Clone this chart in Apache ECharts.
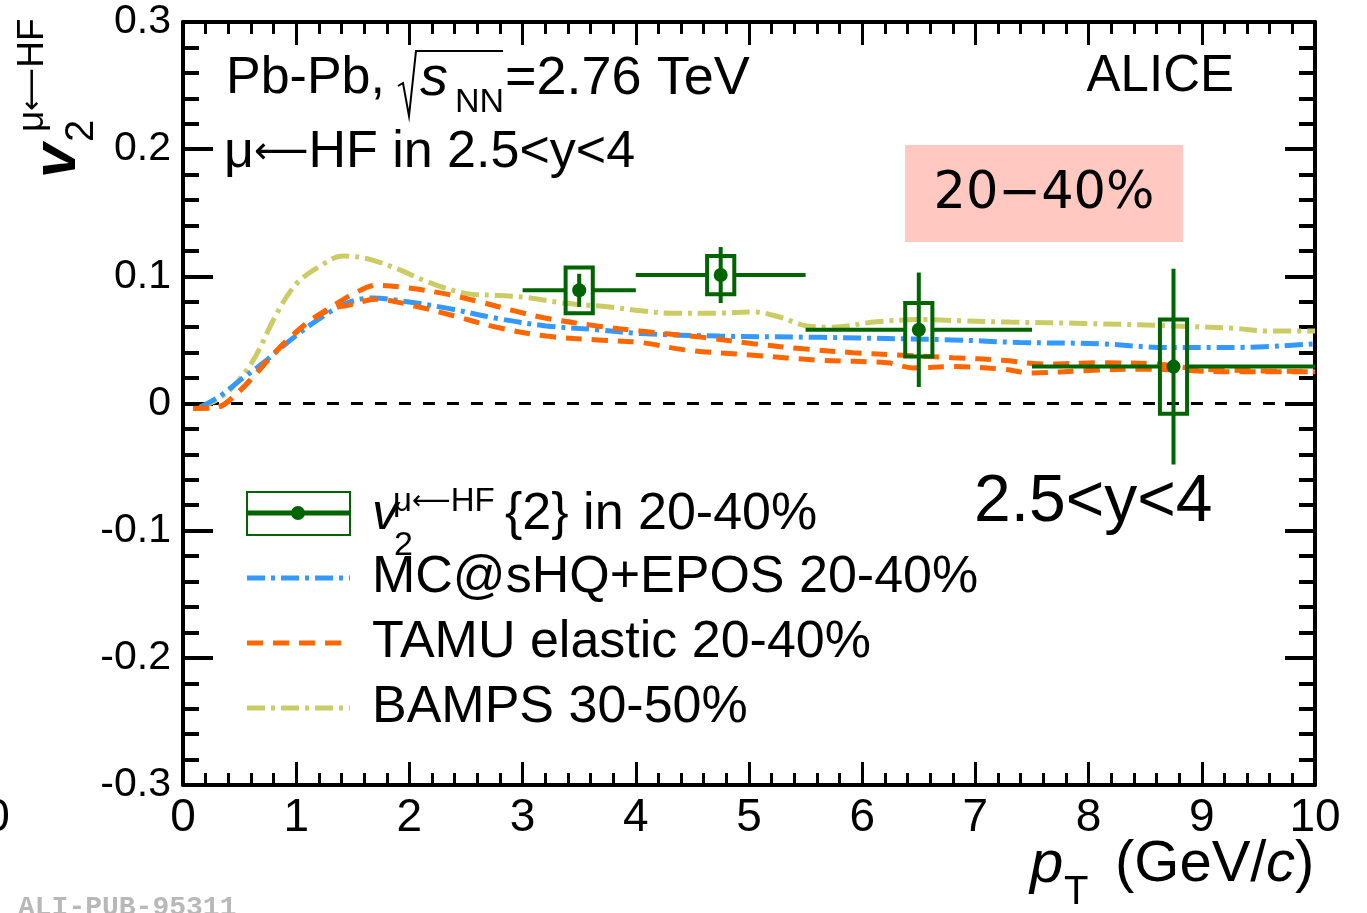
<!DOCTYPE html>
<html>
<head>
<meta charset="utf-8">
<script src="https://cdn.jsdelivr.net/npm/echarts@6/dist/echarts.min.js"></script>
<style>
  html, body { margin: 0; padding: 0; background: #fff; }
  #chart { width: 1367px; height: 913px; }
</style>
</head>
<body>
<div id="chart"></div>
<script>
// ---- data ----
var xTickLabels = ['0', '1', '2', '3', '4', '5', '6', '7', '8', '9', '10'];
var yTickLabels = ['-0.3', '-0.2', '-0.1', '0', '0.1', '0.2', '0.3'];

// measured v2 of muons from heavy-flavour decays, 20-40%
var ptCenter = [3.5, 4.75, 6.5, 8.75];
var ptLow = [3, 4, 5.5, 7.5];
var ptHigh = [4, 5.5, 7.5, 10];
var v2 = [0.089, 0.101, 0.058, 0.029];
var statErr = [0.013, 0.022, 0.045, 0.077];
var sysErr = [0.018, 0.015, 0.021, 0.037];

// BAMPS 30-50%
var bampsPt = [0.15, 0.3, 0.44, 0.62, 0.83, 1.0, 1.21, 1.41, 1.62, 1.89, 2.18, 2.54, 2.8, 3.07, 3.36, 3.75, 4.04, 4.3, 4.7, 5.04, 5.27, 5.51, 5.74, 6.1, 6.51, 6.9, 7.3, 7.95, 8.75, 9.3, 9.58, 10];
var bampsV2 = [-0.003, 0.003, 0.013, 0.034, 0.071, 0.094, 0.108, 0.116, 0.114, 0.106, 0.095, 0.086, 0.085, 0.083, 0.079, 0.076, 0.073, 0.071, 0.071, 0.072, 0.068, 0.061, 0.060, 0.064, 0.066, 0.065, 0.064, 0.063, 0.061, 0.059, 0.057, 0.057];

// MC@sHQ+EPOS 20-40%
var mcPt = [0.15, 0.33, 0.5, 0.71, 0.95, 1.21, 1.45, 1.68, 1.98, 2.33, 2.77, 3.21, 3.66, 4.04, 4.74, 5.63, 6.8, 7.39, 8.1, 8.69, 9.27, 10];
var mcV2 = [-0.003, 0.006, 0.018, 0.032, 0.050, 0.067, 0.079, 0.083, 0.080, 0.075, 0.067, 0.061, 0.058, 0.055, 0.053, 0.052, 0.050, 0.048, 0.047, 0.044, 0.044, 0.047];

// TAMU elastic 20-40% (upper and lower edge)
var tamuHiPt = [0.09, 0.3, 0.5, 0.65, 0.8, 0.95, 1.12, 1.33, 1.5, 1.71, 1.98, 2.33, 2.62, 2.92, 3.21, 3.66, 4.04, 4.59, 5.04, 5.48, 5.92, 6.36, 6.8, 7.24, 7.6, 8.1, 8.6, 9.0, 10];
var tamuHiV2 = [-0.004, -0.003, 0.010, 0.024, 0.039, 0.052, 0.065, 0.077, 0.086, 0.093, 0.091, 0.086, 0.080, 0.073, 0.067, 0.061, 0.057, 0.052, 0.047, 0.043, 0.040, 0.038, 0.036, 0.034, 0.031, 0.032, 0.031, 0.027, 0.025];
var tamuLoPt = [0.09, 0.3, 0.5, 0.65, 0.8, 0.95, 1.12, 1.33, 1.45, 1.71, 2.03, 2.39, 2.77, 3.21, 3.66, 4.04, 4.45, 5.04, 5.63, 6.22, 6.45, 6.8, 7.24, 7.5, 8.0, 8.5, 9.2, 10];
var tamuLoV2 = [-0.004, -0.003, 0.010, 0.024, 0.039, 0.052, 0.065, 0.075, 0.077, 0.082, 0.077, 0.069, 0.060, 0.053, 0.050, 0.048, 0.042, 0.038, 0.034, 0.032, 0.028, 0.029, 0.027, 0.024, 0.026, 0.027, 0.025, 0.025];

var zeroX = [0, 10];
var zeroY = [0, 0];

function pairs(xs, ys) {
    return xs.map(function (x, i) { return [x, ys[i]]; });
}

var GREEN = '#006400';
var BOX_HALF = 0.12;   // half width of the systematic box, in GeV/c
var FONT = 'Liberation Sans';

var myChart = echarts.init(document.getElementById('chart'), null, { renderer: 'canvas' });

var axisCommon = {
    type: 'value',
    splitLine: { show: false },
    axisLine: { onZero: false, lineStyle: { color: '#000', width: 4 } }
};

function renderPoint(params, api) {
    var x = api.value(0), y = api.value(1);
    var xl = api.value(2), xh = api.value(3);
    var st = api.value(4), sy = api.value(5);
    var c = api.coord([x, y]);
    var l = api.coord([xl, y]);
    var h = api.coord([xh, y]);
    var b1 = api.coord([x - BOX_HALF, y + sy]);
    var b2 = api.coord([x + BOX_HALF, y - sy]);
    var s1 = api.coord([x, y + st]);
    var s2 = api.coord([x, y - st]);
    var ls = { stroke: GREEN, lineWidth: 4 };
    return {
        type: 'group',
        children: [
            { type: 'line', shape: { x1: l[0], y1: c[1], x2: b1[0], y2: c[1] }, style: ls },
            { type: 'line', shape: { x1: b2[0], y1: c[1], x2: h[0], y2: c[1] }, style: ls },
            { type: 'line', shape: { x1: c[0], y1: s1[1], x2: c[0], y2: s2[1] }, style: ls },
            { type: 'rect', shape: { x: b1[0], y: b1[1], width: b2[0] - b1[0], height: b2[1] - b1[1] },
              style: { stroke: GREEN, fill: 'none', lineWidth: 4 } },
            { type: 'circle', shape: { cx: c[0], cy: c[1], r: 7 }, style: { fill: GREEN } }
        ]
    };
}

function txt(x, y, text, size, opts) {
    opts = opts || {};
    return {
        type: 'text', x: x, y: y, z: 50, silent: true,
        style: {
            text: text,
            fontSize: size,
            fontFamily: opts.family || FONT,
            fontStyle: opts.italic ? 'italic' : 'normal',
            fontWeight: opts.bold ? 'bold' : 'normal',
            fill: opts.color || '#000',
            align: opts.align || 'left',
            verticalAlign: 'middle'
        }
    };
}

// text with a long arrow "μ⟵HF..." : arrow glyph taken from DejaVu Sans
function arrowTxt(x, y, before, after, size, arrowSize) {
    return {
        type: 'text', x: x, y: y, z: 50, silent: true,
        style: {
            text: '{a|' + before + '}{b|⟵}{a|' + after + '}',
            fill: '#000', align: 'left', verticalAlign: 'middle',
            rich: {
                a: { fontSize: size, fontFamily: FONT, fill: '#000', lineHeight: size },
                b: { fontSize: arrowSize, fontFamily: 'DejaVu Sans', fill: '#000', lineHeight: size }
            }
        }
    };
}

function legendLine(y, color, dash) {
    return { type: 'line', z: 50, shape: { x1: 247, y1: y, x2: 350, y2: y },
             style: { stroke: color, lineWidth: 5, lineDash: dash } };
}

var option = {
    animation: false,
    backgroundColor: '#fff',
    grid: { left: 183, right: 52, top: 22, bottom: 128, containLabel: false },
    xAxis: [
        Object.assign({}, axisCommon, {
            position: 'bottom', min: 0, max: 10, interval: 1,
            axisTick: { inside: true, length: 23, lineStyle: { color: '#000', width: 3 } },
            minorTick: { show: true, splitNumber: 5, length: 12, lineStyle: { color: '#000', width: 3 } },
            axisLabel: {
                color: '#000', fontSize: 46, fontFamily: FONT, margin: 10,
                showMinLabel: true, showMaxLabel: true,
                formatter: function (v, i) { return xTickLabels[i]; }
            }
        }),
        Object.assign({}, axisCommon, {
            position: 'top', min: 0, max: 10, interval: 1,
            axisTick: { inside: true, length: 23, lineStyle: { color: '#000', width: 3 } },
            minorTick: { show: true, splitNumber: 5, length: 12, lineStyle: { color: '#000', width: 3 } },
            axisLabel: { show: false }
        })
    ],
    yAxis: [
        Object.assign({}, axisCommon, {
            position: 'left', min: -0.3, max: 0.3, interval: 0.1,
            axisTick: { inside: true, length: 30, lineStyle: { color: '#000', width: 4 } },
            minorTick: { show: true, splitNumber: 5, length: 16, lineStyle: { color: '#000', width: 4 } },
            axisLabel: {
                color: '#000', fontSize: 41, fontFamily: FONT, margin: 12,
                showMinLabel: true, showMaxLabel: true,
                formatter: function (v, i) { return yTickLabels[i]; }
            }
        }),
        Object.assign({}, axisCommon, {
            position: 'right', min: -0.3, max: 0.3, interval: 0.1,
            axisTick: { inside: true, length: 30, lineStyle: { color: '#000', width: 4 } },
            minorTick: { show: true, splitNumber: 5, length: 16, lineStyle: { color: '#000', width: 4 } },
            axisLabel: { show: false }
        })
    ],
    series: [
        {
            name: 'zero', type: 'line', data: pairs(zeroX, zeroY), symbol: 'none', z: 1,
            lineStyle: { color: '#000', width: 3, type: [12, 12] }
        },
        {
            name: 'BAMPS 30-50%', type: 'line', data: pairs(bampsPt, bampsV2), smooth: 0.35, symbol: 'none', z: 2,
            lineStyle: { color: '#cccc66', width: 5, type: [18, 6, 4, 6] }
        },
        {
            name: 'MC@sHQ+EPOS 20-40%', type: 'line', data: pairs(mcPt, mcV2), smooth: 0.35, symbol: 'none', z: 3,
            lineStyle: { color: '#3399ff', width: 5, type: [18, 6, 4, 6] }
        },
        {
            name: 'TAMU elastic 20-40%', type: 'line', data: pairs(tamuHiPt, tamuHiV2), smooth: 0.35, symbol: 'none', z: 3,
            lineStyle: { color: '#ff6600', width: 5, type: [16, 10] }
        },
        {
            name: 'TAMU elastic 20-40% low', type: 'line', data: pairs(tamuLoPt, tamuLoV2), smooth: 0.35, symbol: 'none', z: 3,
            lineStyle: { color: '#ff6600', width: 5, type: [16, 10] }
        },
        {
            name: 'v2 data', type: 'custom', z: 10,
            data: ptCenter.map(function (x, i) {
                return [x, v2[i], ptLow[i], ptHigh[i], statErr[i], sysErr[i]];
            }),
            encode: { x: 0, y: 1 },
            renderItem: renderPoint
        }
    ],
    graphic: [
        // header texts
        txt(226, 79, 'Pb-Pb,', 52),
        { type: 'polyline', z: 50, shape: { points: [[398, 86], [403, 83], [409, 116], [416, 51], [503, 51]] },
          style: { stroke: '#000', lineWidth: 2, fill: 'none' } },
        txt(420, 79, 's', 56, { italic: true }),
        txt(455, 103, 'NN', 34),
        txt(505, 79, '=2.76 TeV', 54),
        arrowTxt(224, 153, 'μ', 'HF in 2.5<y<4', 52, 38),
        txt(1234, 77, 'ALICE', 51, { align: 'right' }),
        // centrality box
        { type: 'rect', z: 40, shape: { x: 905, y: 145, width: 278, height: 97 }, style: { fill: '#ffc8c0' } },
        txt(1044, 195, '20−40%', 51, { align: 'center', family: 'DejaVu Sans' }),
        txt(974, 503, '2.5<y<4', 66),
        // legend
        { type: 'rect', z: 50, shape: { x: 247, y: 492, width: 103, height: 43 },
          style: { stroke: GREEN, fill: 'none', lineWidth: 2 } },
        { type: 'line', z: 50, shape: { x1: 247, y1: 513, x2: 350, y2: 513 }, style: { stroke: GREEN, lineWidth: 5 } },
        { type: 'circle', z: 51, shape: { cx: 298, cy: 513, r: 7 }, style: { fill: GREEN } },
        txt(372, 515, 'v', 52, { italic: true }),
        txt(394, 546, '2', 34),
        arrowTxt(393, 502, 'μ', 'HF', 33, 27),
        txt(505, 515, '{2} in 20-40%', 52),
        legendLine(578, '#3399ff', [18, 6, 4, 6]),
        txt(372, 578, 'MC@sHQ+EPOS 20-40%', 52),
        legendLine(643, '#ff6600', [16, 10]),
        txt(372, 643, 'TAMU elastic 20-40%', 52),
        legendLine(708, '#cccc66', [18, 6, 4, 6]),
        txt(372, 708, 'BAMPS 30-50%', 52),
        // y axis title (rotated, reads bottom to top)
        {
            type: 'group', x: 0, y: 178, rotation: Math.PI / 2, z: 50,
            children: [
                txt(0, 58, 'v', 62, { italic: true, bold: true }),
                txt(36, 82, '2', 40),
                arrowTxt(46, 33, 'μ', 'HF', 37, 30)
            ]
        },
        // x axis title
        txt(1030, 865, 'p', 60, { italic: true }),
        txt(1064, 893, 'T', 40),
        txt(1115, 865, '(GeV/', 58),
        txt(1266, 865, 'c', 58, { italic: true }),
        txt(1295, 865, ')', 58),
        // stray edge label and figure id
        txt(-3, 818, '0', 46, { align: 'center' }),
        txt(18, 908, 'ALI-PUB-95311', 28, { color: '#b8b8b8', bold: true, family: 'Liberation Mono' })
    ]
};

myChart.setOption(option);
</script>
</body>
</html>
